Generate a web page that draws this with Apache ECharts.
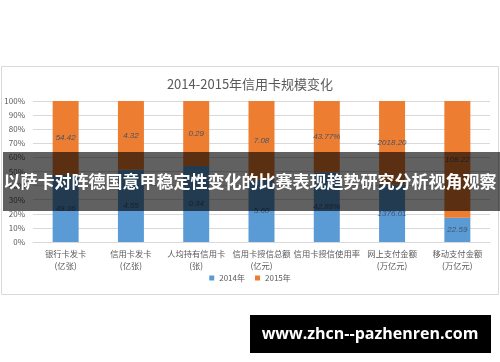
<!DOCTYPE html>
<html><head><meta charset="utf-8">
<script src="https://cdn.jsdelivr.net/npm/echarts@6/dist/echarts.min.js"></script>
<style>html,body{margin:0;padding:0;background:#fff;}#c{width:500px;height:362px;}</style>
</head><body><div id="c"></div>
<script>
const categories = ['银行卡发卡\n(亿张)','信用卡发卡\n(亿张)','人均持有信用卡\n(张)','信用卡授信总额\n(亿元)','信用卡授信使用率','网上支付金额\n(万亿元)','移动支付金额\n(万亿元)'];
const values2014 = [49.36, 4.55, 0.34, 5.60, 42.88, 1376.01, 22.59];
const values2015 = [54.42, 4.32, 0.29, 7.08, 43.77, 2018.20, 108.22];
const labels2014 = ['49.36','4.55','0.34','5.60','42.88%','1376.01','22.59'];
const labels2015 = ['54.42','4.32','0.29','7.08','43.77%','2018.20','108.22'];
const yTicks = [0,10,20,30,40,50,60,70,80,90,100];
const titleText = '2014-2015年信用卡规模变化';
const bannerText = '以萨卡对阵德国意甲稳定性变化的比赛表现趋势研究分析视角观察';
const watermarkText = 'www.zhcn--pazhenren.com';

const share2014 = values2014.map((v,i)=> v/(v+values2015[i])*100);
const share2015 = values2015.map((v,i)=> v/(v+values2014[i])*100);

const chart = echarts.init(document.getElementById('c'), null, {renderer:'canvas'});
const lbl = {show:true, position:'inside', fontSize:8, fontStyle:'italic', color:'#44546A', fontFamily:'Liberation Sans, sans-serif'};
chart.setOption({
  animation:false,
  textStyle:{fontFamily:'"Noto Sans CJK SC", sans-serif'},
  title:{text:titleText, left:'center', top:73, textStyle:{fontSize:13, fontWeight:'normal', color:'#595959'}},
  grid:{left:33, right:10, top:101, bottom:120, containLabel:false},
  legend:{bottom:75, left:'center', itemWidth:5, itemHeight:5, itemGap:10, icon:'rect',
    textStyle:{fontSize:8, color:'#595959'}, data:['2014年','2015年']},
  xAxis:{type:'category', data:categories,
    axisLine:{lineStyle:{color:'#d9d9d9'}}, axisTick:{show:false},
    axisLabel:{fontSize:8.3, color:'#595959', lineHeight:12, margin:6, interval:0}},
  yAxis:{type:'value', min:0, max:100, interval:10,
    axisLabel:{fontSize:8, color:'#595959', margin:8, formatter:v=> yTicks.includes(v)? v+'%':''},
    splitLine:{lineStyle:{color:'#d9d9d9'}}, axisLine:{show:false}, axisTick:{show:false}},
  series:[
    {name:'2014年', type:'bar', stack:'s', barWidth:26, data:share2014, itemStyle:{color:'#5B9BD5'},
      label:Object.assign({}, lbl, {formatter:p=>labels2014[p.dataIndex]})},
    {name:'2015年', type:'bar', stack:'s', barWidth:26, data:share2015, itemStyle:{color:'#ED7D31'},
      label:Object.assign({}, lbl, {formatter:p=>labels2015[p.dataIndex]})}
  ],
  graphic:[
    {type:'rect', shape:{x:1.5, y:66.5, width:497, height:228}, style:{fill:'none', stroke:'#d9d9d9', lineWidth:1}, z:-1},
    {type:'rect', shape:{x:3, y:152, width:497, height:59}, style:{fill:'rgba(0,0,0,0.62)'}, z:100},
    {type:'text', x:250, y:182, style:{text:bannerText, fill:'#fff', fontSize:17, fontWeight:'bold', align:'center', verticalAlign:'middle', fontFamily:'"Noto Sans CJK SC", sans-serif'}, z:101},
    {type:'rect', shape:{x:250, y:315, width:241, height:38}, style:{fill:'#000'}, z:100},
    {type:'text', x:370, y:334, style:{text:watermarkText, fill:'#fff', fontSize:16, fontWeight:'bold', align:'center', verticalAlign:'middle', fontFamily:'"Open Sans", "DejaVu Sans", sans-serif'}, z:101}
  ]
});
</script></body></html>
